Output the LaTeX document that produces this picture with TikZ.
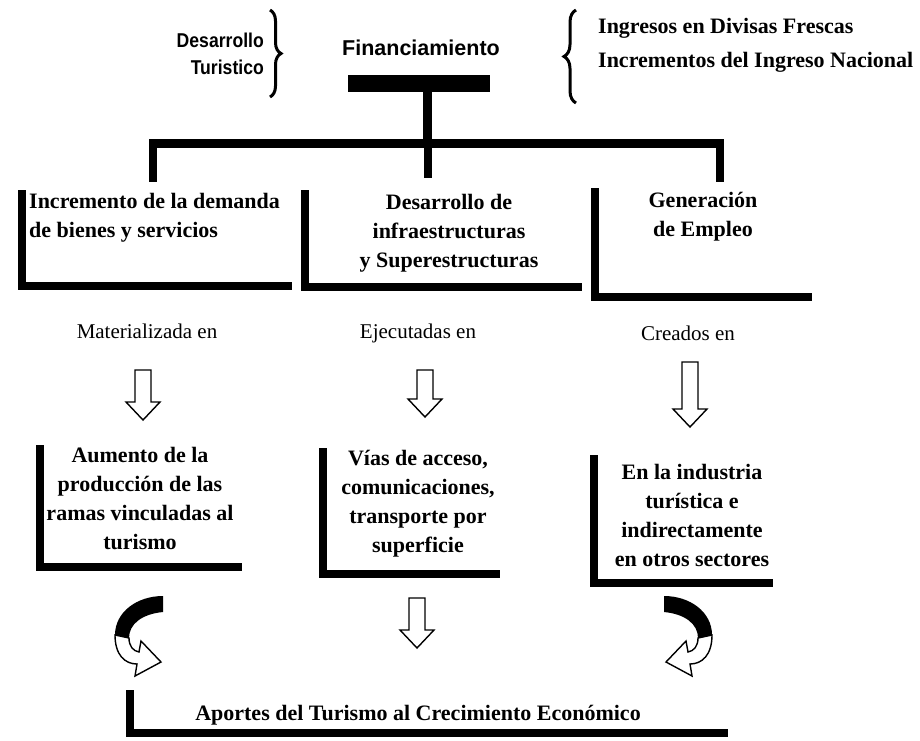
\documentclass[tikz,border=0pt]{standalone}
\usepackage{fontspec}
\setmainfont{Liberation Serif}
\newfontfamily\headsans[FakeStretch=0.88]{Liberation Sans}
\newfontfamily\headsanswide{Liberation Sans}
\usetikzlibrary{decorations.pathreplacing}
\newcommand\hollowdown[3]{%
  \draw[hollow] ({#1-8},#2) -- ({#1+8},#2) -- ({#1+8},{#3-18}) -- ({#1+17},{#3-18})
    -- (#1,#3) -- ({#1-17},{#3-18}) -- ({#1-8},{#3-18}) -- cycle;}
\newcommand\uturnarrow{%
  \fill (-24,-40) .. controls (2,-40) and (24,-24) .. (24,-1) -- (10,2)
    .. controls (10,-12) and (-3,-22) .. (-24,-24) -- cycle;
  \draw[hollow] (24,-1) .. controls (24,19) and (14,28) .. (2,28) -- (4,40) -- (-22,26)
    -- (-2,5) -- (0,16) .. controls (6,15) and (10,10) .. (10,2) -- cycle;}
\begin{document}
\begin{tikzpicture}[x=1pt,y=-1pt,
  bartxt/.style={font=\fontsize{22}{29}\selectfont\bfseries, align=center, inner sep=0pt},
  headtxt/.style={font=\fontsize{20}{24}\selectfont\headsans\bfseries, inner sep=0pt},
  lbl/.style={font=\fontsize{21}{25}\selectfont, inner sep=0pt},
  heavy/.style={line width=9pt},
  side/.style={line width=8pt, line join=miter},
  hollow/.style={draw, line width=1.4pt, fill=white, line join=miter},
  bracestyle/.style={line width=3pt, decorate}]
\useasboundingbox (0,0) rectangle (920,740);

% top row
\node[headtxt, anchor=east] (des) at (264,40) {Desarrollo};
\node[headtxt, anchor=east] (tur) at (264,67) {Turistico};
\draw[bracestyle, decoration={brace, amplitude=11pt}] (270,10) -- (270,97);
\node[headtxt, font=\fontsize{21.5}{24}\selectfont\headsanswide\bfseries] (fin) at (421,48) {Financiamiento};
\node[fill, minimum width=142pt, minimum height=17pt, inner sep=0pt] (finbar) at (419,83.5) {};
\draw[bracestyle, decoration={brace, amplitude=12pt}] (576,103) -- (576,10);
\node[bartxt, anchor=west] (ing) at (598,28) {Ingresos en Divisas Frescas};
\node[bartxt, anchor=west] (incn) at (598,62) {Incrementos del Ingreso Nacional};

% connectors
\coordinate (stemtop) at (427,92);
\coordinate (hl) at (149,143);
\coordinate (hr) at (724,143);
\draw[heavy] (stemtop) -- (427,147);
\draw[heavy] (hl) -- (hr);
\coordinate (d1) at (153,182);
\coordinate (d2) at (428,178);
\coordinate (d3) at (720,182);
\draw[side] (153,139) -- (d1);
\draw[side] (428,139) -- (d2);
\draw[side] (720,139) -- (d3);

% upper boxes
\draw[side] (22,190) -- (22,286) -- (292,286);
\node[bartxt, anchor=west, align=left] (inc) at (29,218) {Incremento de la demanda\\de bienes y servicios};
\draw[side] (305,190) -- (305,287) -- (582,287);
\node[bartxt] (infra) at (449,233) {Desarrollo de\\infraestructuras\\y Superestructuras};
\draw[side] (595,188) -- (595,297) -- (812,297);
\node[bartxt] (gen) at (703,217) {Generación\\de Empleo};

% labels
\node[lbl] (mat) at (147,331) {Materializada en};
\node[lbl] (eje) at (418,333) {Ejecutadas en};
\node[lbl] (cre) at (688,333) {Creados en};

% down arrows
\hollowdown{143}{370}{420}
\hollowdown{425}{370}{417}
\hollowdown{690}{362}{427}

% lower boxes
\draw[side] (40,445) -- (40,567) -- (242,567);
\node[bartxt] (aum) at (140,498) {Aumento de la\\producción de las\\ramas vinculadas al\\turismo};
\draw[side] (323,448) -- (323,574) -- (500,574);
\node[bartxt] (vias) at (418,504) {Vías de acceso,\\comunicaciones,\\transporte por\\superficie};
\draw[side] (594,455) -- (594,583) -- (773,583);
\node[bartxt] (ind) at (692,515) {En la industria\\turística e\\indirectamente\\en otros sectores};

% lower arrows
\begin{scope}[shift={(139,636)}, xscale=-1]\uturnarrow\end{scope}
\hollowdown{417}{598}{648}
\begin{scope}[shift={(688,636)}]\uturnarrow\end{scope}

% bottom
\node[bartxt] (apo) at (418,715) {Aportes del Turismo al Crecimiento Económico};
\draw[side] (130,690) -- (130,733) -- (728,733);
\end{tikzpicture}
\end{document}
